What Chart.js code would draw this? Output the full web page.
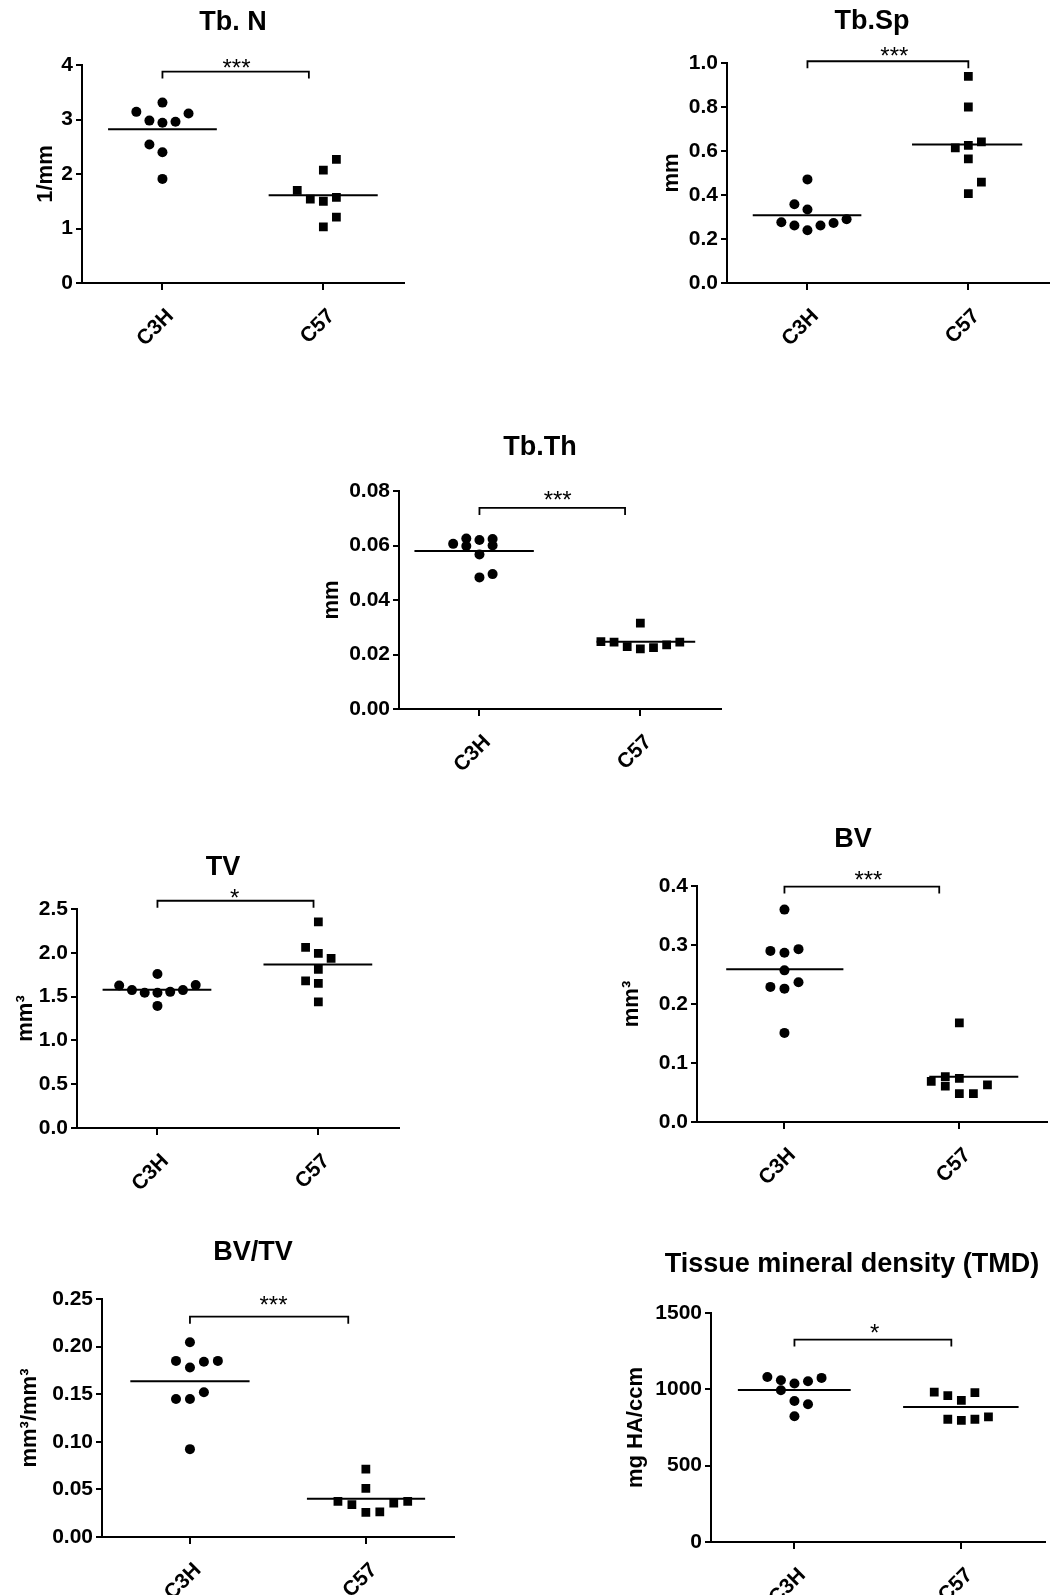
<!DOCTYPE html>
<html>
<head>
<meta charset="utf-8">
<script src="https://cdn.jsdelivr.net/npm/chart.js@4.4.1/dist/chart.umd.min.js"></script>
<style>
html,body{margin:0;padding:0;background:#fff;overflow:hidden;width:1051px;height:1595px;}
#wrap{position:relative;width:1051px;height:1595px;overflow:hidden;background:#fff;}
#wrap canvas{position:absolute;}
</style>
</head>
<body>
<div id="wrap"></div>
<script>
// ---------------- DATA ----------------
const categories = ['C3H', 'C57'];
const panelTitles = ['Tb. N', 'Tb.Sp', 'Tb.Th', 'TV', 'BV', 'BV/TV', 'Tissue mineral density (TMD)'];
const yAxisTitles = ['1/mm', 'mm', 'mm', 'mm³', 'mm³', 'mm³/mm³', 'mg HA/ccm'];
const yMaxValues = [4, 1.0, 0.08, 2.5, 0.4, 0.25, 1500];
const yStepValues = [1, 0.2, 0.02, 0.5, 0.1, 0.05, 500];
const tickDecimals = [0, 1, 2, 1, 1, 2, 0];
const significance = ['***', '***', '***', '*', '***', '***', '*'];
const bracketLevels = [3.88, 1.008, 0.0738, 2.594, 0.399, 0.2314, 1326];
const bracketRightEnds = [0.91, 1.0, 0.905, 0.97, 0.885, 0.9, 0.94];
const starPositions = [0.46, 0.54, 0.486, 0.48, 0.48, 0.475, 0.48];

// Tb.N (1/mm)
const tbN_C3H = [3.14, 3.31, 3.11, 2.98, 2.94, 2.96, 2.54, 2.40, 1.91];
const tbN_C3H_slots = [-2, 0, 2, -1, 0, 1, -1, 0, 0];
const tbN_C57 = [2.27, 2.07, 1.70, 1.54, 1.50, 1.57, 1.21, 1.03];
const tbN_C57_slots = [1, 0, -2, -1, 0, 1, 1, 0];
const tbN_means = [2.82, 1.61];

// Tb.Sp (mm)
const tbSp_C3H = [0.471, 0.358, 0.334, 0.276, 0.261, 0.240, 0.261, 0.273, 0.290];
const tbSp_C3H_slots = [0, -1, 0, -2, -1, 0, 1, 2, 3];
const tbSp_C57 = [0.939, 0.800, 0.614, 0.626, 0.641, 0.564, 0.458, 0.406];
const tbSp_C57_slots = [0, 0, -1, 0, 1, 0, 1, 0];
const tbSp_means = [0.308, 0.630];

// Tb.Th (mm)
const tbTh_C3H = [0.0606, 0.0626, 0.0598, 0.0620, 0.0567, 0.0624, 0.0600, 0.0483, 0.0495];
const tbTh_C3H_slots = [-2, -1, -1, 0, 0, 1, 1, 0, 1];
const tbTh_C57 = [0.0315, 0.0247, 0.0245, 0.0229, 0.0221, 0.0225, 0.0235, 0.0245];
const tbTh_C57_slots = [0, -3, -2, -1, 0, 1, 2, 3];
const tbTh_means = [0.0580, 0.0247];

// TV (mm3)
const tv_C3H = [1.627, 1.574, 1.543, 1.757, 1.543, 1.394, 1.554, 1.574, 1.631];
const tv_C3H_slots = [-3, -2, -1, 0, 0, 0, 1, 2, 3];
const tv_C57 = [2.354, 2.062, 1.993, 1.936, 1.810, 1.680, 1.650, 1.440];
const tv_C57_slots = [0, -1, 0, 1, 0, -1, 0, 0];
const tv_means = [1.577, 1.867];

// BV (mm3)
const bv_C3H = [0.360, 0.290, 0.287, 0.293, 0.257, 0.229, 0.226, 0.237, 0.151];
const bv_C3H_slots = [0, -1, 0, 1, 0, -1, 0, 1, 0];
const bv_C57 = [0.168, 0.069, 0.077, 0.061, 0.074, 0.048, 0.048, 0.063];
const bv_C57_slots = [0, -2, -1, -1, 0, 0, 1, 2];
const bv_means = [0.259, 0.0766];

// BV/TV (mm3/mm3)
const bvtv_C3H = [0.2046, 0.185, 0.178, 0.184, 0.185, 0.145, 0.145, 0.152, 0.0923];
const bvtv_C3H_slots = [0, -1, 0, 1, 2, -1, 0, 1, 0];
const bvtv_C57 = [0.0713, 0.051, 0.0373, 0.0339, 0.0258, 0.0265, 0.0357, 0.0373];
const bvtv_C57_slots = [0, 0, -2, -1, 0, 1, 2, 3];
const bvtv_means = [0.1636, 0.0402];

// TMD (mg HA/ccm)
const tmd_C3H = [1081, 1059, 1038, 1053, 1075, 994, 924, 902, 824];
const tmd_C3H_slots = [-2, -1, 0, 1, 2, -1, 0, 1, 0];
const tmd_C57 = [981, 959, 928, 979, 804, 797, 804, 819];
const tmd_C57_slots = [-2, -1, 0, 1, -1, 0, 1, 2];
const tmd_means = [996, 885];

// --------------- PANEL ASSEMBLY ---------------
const panelData = [
  {c3h: tbN_C3H, c3hSlots: tbN_C3H_slots, c57: tbN_C57, c57Slots: tbN_C57_slots, means: tbN_means},
  {c3h: tbSp_C3H, c3hSlots: tbSp_C3H_slots, c57: tbSp_C57, c57Slots: tbSp_C57_slots, means: tbSp_means},
  {c3h: tbTh_C3H, c3hSlots: tbTh_C3H_slots, c57: tbTh_C57, c57Slots: tbTh_C57_slots, means: tbTh_means},
  {c3h: tv_C3H, c3hSlots: tv_C3H_slots, c57: tv_C57, c57Slots: tv_C57_slots, means: tv_means},
  {c3h: bv_C3H, c3hSlots: bv_C3H_slots, c57: bv_C57, c57Slots: bv_C57_slots, means: bv_means},
  {c3h: bvtv_C3H, c3hSlots: bvtv_C3H_slots, c57: bvtv_C57, c57Slots: bvtv_C57_slots, means: bvtv_means},
  {c3h: tmd_C3H, c3hSlots: tmd_C3H_slots, c57: tmd_C57, c57Slots: tmd_C57_slots, means: tmd_means}
];

// layout (page pixel geometry, styling only)
const LAYOUT = [
  {axisLeft: 82,  unit: 164, plotTop: 65,   plotBottom: 283,  yTitleX: 46,  titleX: 233, titleY: 23,   slotPx: 13.3, starDy: 9.7,  spans: [[-0.338, 0.338], [-0.34, 0.338]]},
  {axisLeft: 727, unit: 164, plotTop: 63,   plotBottom: 283,  yTitleX: 672, titleX: 872, titleY: 22,   slotPx: 13.3, starDy: 11,   spans: [[-0.34, 0.335], [-0.35, 0.335]]},
  {axisLeft: 399, unit: 164, plotTop: 491,  plotBottom: 709,  yTitleX: 332, titleX: 540, titleY: 448,  slotPx: 13.4, starDy: 13.7, spans: [[-0.404, 0.338], [-0.272, 0.341]]},
  {axisLeft: 77,  unit: 164, plotTop: 909,  plotBottom: 1128, yTitleX: 26,  titleX: 223, titleY: 868,  slotPx: 13.0, starDy: 8,    spans: [[-0.341, 0.335], [-0.341, 0.335]]},
  {axisLeft: 697, unit: 178, plotTop: 886,  plotBottom: 1122, yTitleX: 632, titleX: 853, titleY: 840,  slotPx: 14.3, starDy: 12.7, spans: [[-0.333, 0.337], [-0.172, 0.337]]},
  {axisLeft: 102, unit: 179, plotTop: 1299, plotBottom: 1537, yTitleX: 30,  titleX: 253, titleY: 1253, slotPx: 14.2, starDy: 17.4, spans: [[-0.339, 0.339], [-0.335, 0.337]]},
  {axisLeft: 711, unit: 170, plotTop: 1313, plotBottom: 1542, yTitleX: 636, titleX: 852, titleY: 1265, slotPx: 13.8, starDy: 12,   spans: [[-0.339, 0.337], [-0.349, 0.343]]}
];

const FONT = '"Liberation Sans", Arial, Helvetica, sans-serif';
const PAD_TOP = 70;
const XAXIS_H = 80;
const STAR_SIZE = 24;
const wrap = document.getElementById('wrap');

panelData.forEach((p, i) => {
  const L = LAYOUT[i];
  const cLeft = L.yTitleX - 13;
  const cTop = L.plotTop - PAD_TOP;
  const yAxisW = L.axisLeft - cLeft;
  const cW = yAxisW + 2 * L.unit;
  const cH = L.plotBottom - cTop + XAXIS_H;
  const canvas = document.createElement('canvas');
  canvas.width = cW; canvas.height = cH;
  canvas.style.left = cLeft + 'px'; canvas.style.top = cTop + 'px';
  canvas.style.width = cW + 'px'; canvas.style.height = cH + 'px';
  wrap.appendChild(canvas);

  const toX = (g, s) => g + s * L.slotPx / L.unit;
  const datasets = [
    {label: categories[0], data: p.c3h.map((v, k) => ({x: toX(0, p.c3hSlots[k]), y: v})),
     pointStyle: 'circle', pointRadius: 5, pointHoverRadius: 5, backgroundColor: '#000', borderColor: '#000', borderWidth: 0},
    {label: categories[1], data: p.c57.map((v, k) => ({x: toX(1, p.c57Slots[k]), y: v})),
     pointStyle: 'rect', pointRadius: 6.2, pointHoverRadius: 6.2, backgroundColor: '#000', borderColor: '#000', borderWidth: 0},
    {label: categories[0] + ' mean', data: [{x: L.spans[0][0], y: p.means[0]}, {x: L.spans[0][1], y: p.means[0]}],
     showLine: true, pointRadius: 0, borderColor: '#000', borderWidth: 2, fill: false},
    {label: categories[1] + ' mean', data: [{x: 1 + L.spans[1][0], y: p.means[1]}, {x: 1 + L.spans[1][1], y: p.means[1]}],
     showLine: true, pointRadius: 0, borderColor: '#000', borderWidth: 2, fill: false}
  ];

  const decor = {
    id: 'decor' + i,
    afterDraw(chart) {
      const ctx = chart.ctx;
      const xs = chart.scales.x, ys = chart.scales.y;
      ctx.save();
      // panel title
      ctx.fillStyle = '#000';
      ctx.font = 'bold 27px ' + FONT;
      ctx.textAlign = 'center';
      ctx.textBaseline = 'middle';
      ctx.fillText(panelTitles[i], L.titleX - cLeft, L.titleY - cTop);
      // significance bracket
      const by = ys.getPixelForValue(bracketLevels[i]);
      const x1 = xs.getPixelForValue(0);
      const x2 = xs.getPixelForValue(bracketRightEnds[i]);
      ctx.strokeStyle = '#000';
      ctx.lineWidth = 1.8;
      ctx.beginPath();
      ctx.moveTo(x1, by + 7);
      ctx.lineTo(x1, by);
      ctx.lineTo(x2, by);
      ctx.lineTo(x2, by + 7);
      ctx.stroke();
      ctx.font = STAR_SIZE + 'px ' + FONT;
      ctx.textBaseline = 'alphabetic';
      ctx.fillText(significance[i], xs.getPixelForValue(starPositions[i]), by - L.starDy + 0.57 * STAR_SIZE);
      ctx.restore();
    }
  };

  new Chart(canvas, {
    type: 'scatter',
    data: {datasets},
    options: {
      responsive: false,
      animation: false,
      devicePixelRatio: 1,
      layout: {padding: {top: PAD_TOP, left: 0, right: 0, bottom: 0}},
      plugins: {legend: {display: false}, tooltip: {enabled: false}, title: {display: false}},
      scales: {
        x: {
          type: 'linear', min: -0.5, max: 1.5,
          afterBuildTicks: s => { s.ticks = categories.map((c, k) => ({value: k})); },
          afterFit: s => { s.height = XAXIS_H; },
          border: {display: true, color: '#000', width: 2},
          grid: {display: true, drawOnChartArea: false, drawTicks: true, tickLength: 7, color: '#000', lineWidth: 2},
          ticks: {autoSkip: false, minRotation: 45, maxRotation: 45, padding: 14, labelOffset: 8, color: '#000',
                  font: {family: FONT, size: 21, weight: 'bold'},
                  callback: v => categories[Math.round(v)]}
        },
        y: {
          type: 'linear', min: 0, max: yMaxValues[i],
          afterFit: s => { s.width = yAxisW; },
          border: {display: true, color: '#000', width: 2},
          grid: {display: true, drawOnChartArea: false, drawTicks: true, tickLength: 6, color: '#000', lineWidth: 2},
          ticks: {stepSize: yStepValues[i], padding: 3, color: '#000',
                  font: {family: FONT, size: 21, weight: 'bold'},
                  callback: v => Number(v).toFixed(tickDecimals[i])},
          title: {display: true, text: yAxisTitles[i], color: '#000', padding: 0,
                  font: {family: FONT, size: 22, weight: 'bold'}}
        }
      }
    },
    plugins: [decor]
  });
});
</script>
</body>
</html>
